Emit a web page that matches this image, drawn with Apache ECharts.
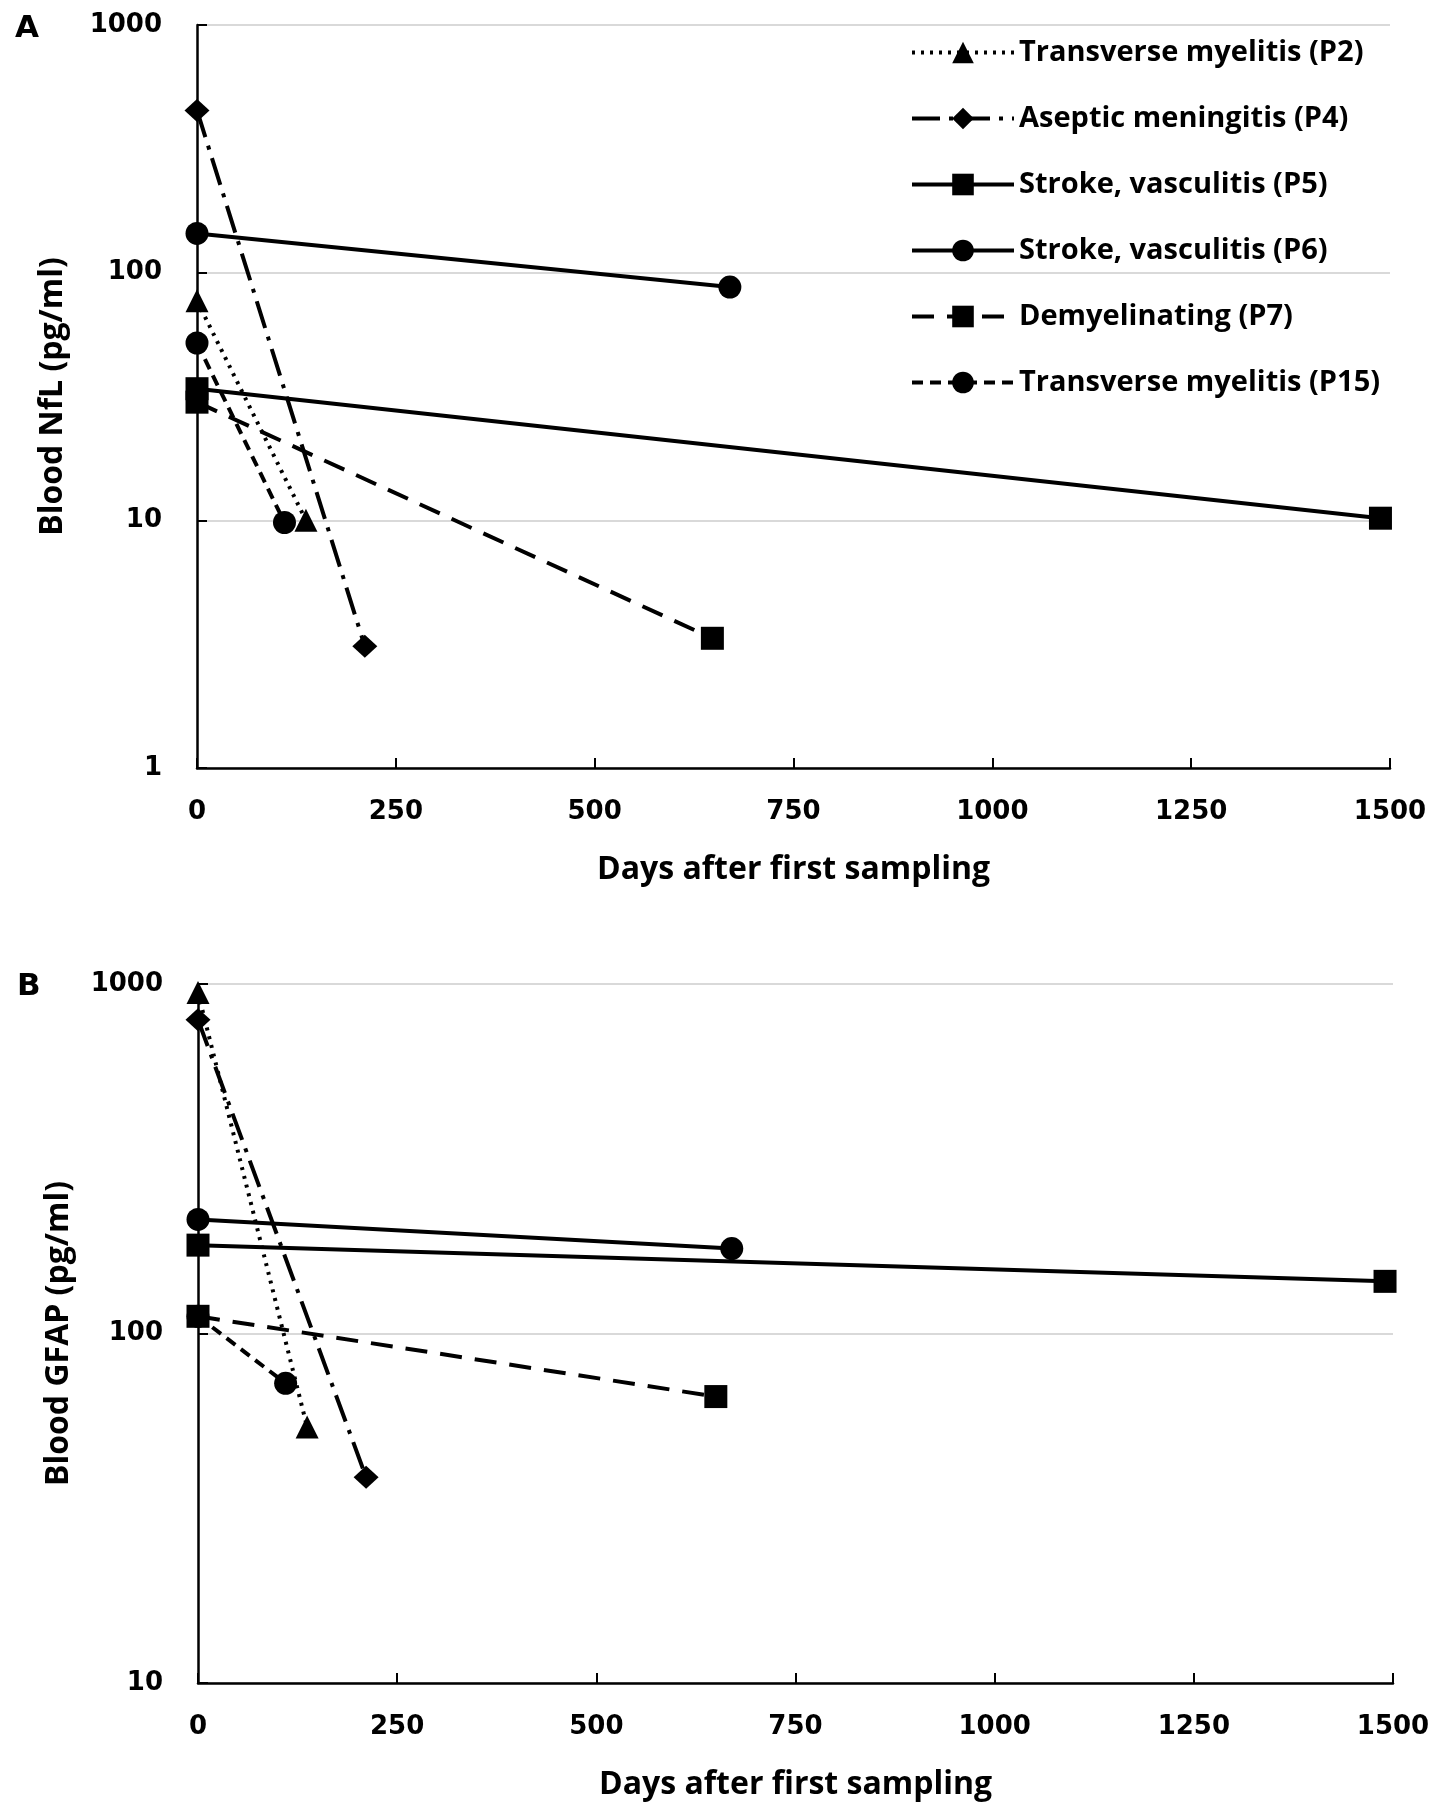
<!DOCTYPE html>
<html>
<head>
<meta charset="utf-8">
<script src="https://cdn.jsdelivr.net/npm/echarts@6/dist/echarts.min.js"></script>
<style>
  html, body { margin: 0; padding: 0; background: #fff; }
  #main { width: 1444px; height: 1816px; }
</style>
</head>
<body>
<div id="main"></div>
<script>
// patients, in legend order
var seriesNames = [
  'Transverse myelitis (P2)',
  'Aseptic meningitis (P4)',
  'Stroke, vasculitis (P5)',
  'Stroke, vasculitis (P6)',
  'Demyelinating (P7)',
  'Transverse myelitis (P15)'
]
var symbols = ['triangle', 'diamond', 'rect', 'circle', 'rect', 'circle']
var dashes = [[3, 6], [28, 9, 4, 9], 'solid', 'solid', [22, 13], [11, 7]]

// panel A: blood NfL (pg/ml)
var nflDays = [[0, 137], [0, 211], [0, 1488], [0, 670], [0, 648], [0, 110]]
var nflValues = [[77, 10], [452, 3.1], [34, 10.2], [144, 87.5], [30, 3.34], [52, 9.8]]

// panel B: blood GFAP (pg/ml)
var gfapDays = [[0, 137], [0, 211], [0, 1490], [0, 670], [0, 650], [0, 110]]
var gfapValues = [[945, 54], [790, 38.8], [179, 141], [212, 175], [112, 66], [112, 72]]

var xTicks = [0, 250, 500, 750, 1000, 1250, 1500]

var tickFont = { fontFamily: 'DejaVu Sans', fontWeight: 'bold', fontSize: 26, color: '#000' }
var titleFont = { fontFamily: 'Open Sans', fontWeight: 'bold', fontSize: 32, color: '#000' }

function plain(v) { return String(v) }

function makeSeries(days, values, axis) {
  return seriesNames.map(function (name, i) {
    return {
      name: name,
      type: 'line',
      xAxisIndex: axis,
      yAxisIndex: axis,
      data: days[i].map(function (d, j) { return [d, values[i][j]] }),
      symbol: symbols[i],
      symbolSize: symbols[i] == 'diamond' ? [25, 23] : 23,
      lineStyle: { color: '#000', width: 4, type: dashes[i] },
      itemStyle: { color: '#000' },
      emphasis: { disabled: true }
    }
  })
}

function xAxis(grid) {
  return {
    type: 'value',
    gridIndex: grid,
    min: xTicks[0],
    max: xTicks[xTicks.length - 1],
    interval: 250,
    name: 'Days after first sampling',
    nameLocation: 'middle',
    nameGap: 86,
    nameTextStyle: titleFont,
    axisLine: { lineStyle: { color: '#000', width: 2.5 } },
    axisTick: { inside: true, length: 10, lineStyle: { color: '#000', width: 2 } },
    axisLabel: Object.assign({ margin: 31, formatter: plain }, tickFont),
    splitLine: { show: false }
  }
}

function yAxis(grid, min, name, gap) {
  return {
    type: 'log',
    logBase: 10,
    gridIndex: grid,
    min: min,
    max: 1000,
    name: name,
    nameLocation: 'middle',
    nameGap: gap,
    nameTextStyle: titleFont,
    axisLine: { show: true, lineStyle: { color: '#000', width: 2.5 } },
    axisTick: { show: true, inside: true, length: 10, lineStyle: { color: '#000', width: 2 } },
    axisLabel: Object.assign({ margin: 35, formatter: plain }, tickFont),
    splitLine: { show: true, lineStyle: { color: '#d9d9d9', width: 2 } },
    minorTick: { show: false }
  }
}

var chart = echarts.init(document.getElementById('main'))
var option = {
  backgroundColor: '#fff',
  animation: false,
  title: [
    { text: 'A', left: 10, top: 8, textStyle: { fontFamily: 'DejaVu Sans', fontWeight: 'bold', fontSize: 31, color: '#000' } },
    { text: 'B', left: 12, top: 966, textStyle: { fontFamily: 'DejaVu Sans', fontWeight: 'bold', fontSize: 31, color: '#000' } }
  ],
  legend: {
    data: seriesNames,
    orient: 'vertical',
    left: 905,
    top: 33,
    itemWidth: 102,
    itemHeight: 27,
    itemGap: 37,
    lineStyle: { width: 4 },
    textStyle: { lineHeight: 27, fontSize: 29, fontFamily: 'Open Sans', fontWeight: 'bold', color: '#000' },
    selectedMode: false
  },
  grid: [
    { left: 197, right: 54, top: 25, height: 743 },
    { left: 198, right: 51, top: 984, height: 699 }
  ],
  xAxis: [xAxis(0), xAxis(1)],
  yAxis: [
    yAxis(0, 1, 'Blood NfL (pg/ml)', 128),
    yAxis(1, 10, 'Blood GFAP (pg/ml)', 123)
  ],
  series: makeSeries(nflDays, nflValues, 0).concat(makeSeries(gfapDays, gfapValues, 1))
}
chart.setOption(option)
</script>
</body>
</html>
